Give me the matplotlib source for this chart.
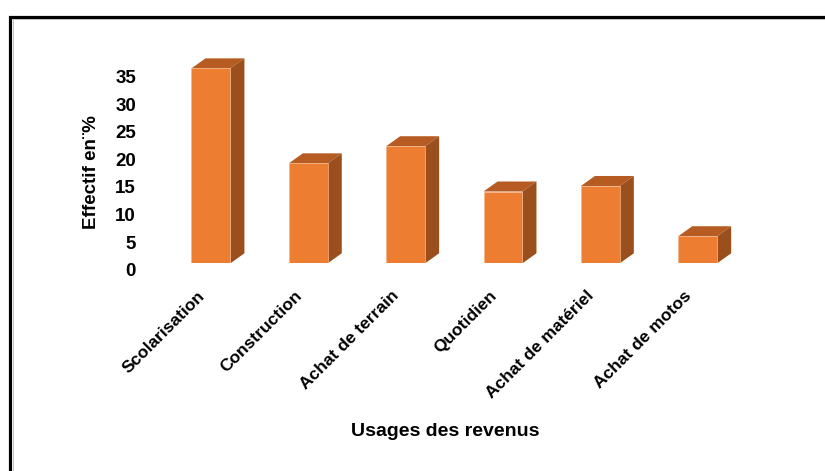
import matplotlib
matplotlib.use('Agg')
import matplotlib.pyplot as plt
from matplotlib.patches import Polygon, Rectangle
from matplotlib.transforms import ScaledTranslation

plt.rcParams['font.family'] = ['Liberation Sans', 'DejaVu Sans']
plt.rcParams['font.weight'] = 'bold'

usages = ['Scolarisation', 'Construction', 'Achat de terrain', 'Quotidien',
          'Achat de matériel', 'Achat de motos']
effectif = [35.3, 18.1, 21.2, 13.0, 14.0, 4.9]
yticks = [0, 5, 10, 15, 20, 25, 30, 35]

front = '#ED7D31'
top_c = '#B65C22'
side_c = '#9A4F1D'

fig = plt.figure(figsize=(8.25, 4.71), dpi=100)
ax = fig.add_axes([0.1967, 0.441, 0.708, 0.4338])
ax.set_xlim(-0.5, 5.5)
ax.set_ylim(0, 37)

# frame around the chart area
fig.patches.append(Rectangle((10/825, -0.1), 1.0, (471-16.5)/471 + 0.1,
                             transform=fig.transFigure, fill=False,
                             edgecolor='black', linewidth=2.3))
fig.patches.append(Rectangle((13/825, -0.1), 1.0, (471-19)/471 + 0.1,
                             transform=fig.transFigure, fill=False,
                             edgecolor='#bbbbbb', linewidth=0.6))

w = 0.4
x = list(range(len(usages)))
ax.bar(x, effectif, width=w, color=front, edgecolor='#F5B48A', linewidth=0.5, zorder=3)

# depth of the 3d columns (14 px right, 10 px up)
p = ax.transData.transform([(0, 0), (1, 1)])
ddx = 14 / (p[1, 0] - p[0, 0])
ddy = 10 / (p[1, 1] - p[0, 1])
for xi, v in zip(x, effectif):
    xl, xr = xi - w/2, xi + w/2
    ax.add_patch(Polygon([(xl, v), (xr, v), (xr+ddx, v+ddy), (xl+ddx, v+ddy)],
                         closed=True, facecolor=top_c, edgecolor='none',
                         zorder=2, clip_on=False))
    ax.add_patch(Polygon([(xr, 0), (xr+ddx, ddy), (xr+ddx, v+ddy), (xr, v)],
                         closed=True, facecolor=side_c, edgecolor='none',
                         zorder=2, clip_on=False))

for s in ax.spines.values():
    s.set_visible(False)

ax.set_yticks(yticks)
ax.set_yticklabels([str(t) for t in yticks], fontsize=13.5)
ax.tick_params(axis='y', length=0, pad=19)
for lab in ax.get_yticklabels():
    lab.set_transform(lab.get_transform() + ScaledTranslation(0, -0.065, fig.dpi_scale_trans))

ax.set_xticks(x)
ax.set_xticklabels(usages, rotation=45, ha='right', rotation_mode='anchor', fontsize=12.5)
ax.tick_params(axis='x', length=0, pad=18)
for lab in ax.get_xticklabels():
    lab.set_transform(lab.get_transform() + ScaledTranslation(-0.14, 0, fig.dpi_scale_trans))

ax.set_ylabel('Effectif en¨%', fontsize=13.5, fontweight='bold')
ax.yaxis.set_label_coords(-0.107, 0.447)
fig.text(445/825, 1 - 432/471, 'Usages des revenus', ha='center', va='center',
         fontsize=14, fontweight='bold')

fig.savefig('out.png', dpi=100)
